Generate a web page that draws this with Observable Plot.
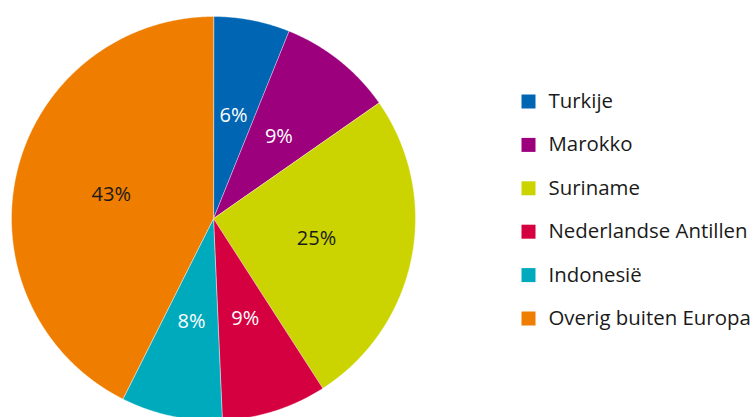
<!DOCTYPE html>
<html>
<head>
<meta charset="utf-8">
<script src="https://cdn.jsdelivr.net/npm/d3@7"></script>
<script src="https://cdn.jsdelivr.net/npm/@observablehq/plot@0.6"></script>
<style>
  html, body { margin: 0; padding: 0; background: #fff; }
  #chart svg { display: block; }
</style>
</head>
<body>
<div id="chart"></div>
<script>
const categories = ["Turkije", "Marokko", "Suriname", "Nederlandse Antillen", "Indonesië", "Overig buiten Europa"];
const values = [6.1, 9.2, 25.6, 8.4, 8.1, 42.6];
const labels = ["6%", "9%", "25%", "9%", "8%", "43%"];
const colors = ["#0066b3", "#9c007d", "#cbd400", "#d5003f", "#00aabd", "#ee7d00"];
const labelColors = ["white", "white", "#1a1a1a", "white", "white", "#1a1a1a"];

const W = 753, H = 417;
const cx = 213, cy = 218, R = 202;
// pixel -> projection units (center 0,0, radius 1, y down)
const ux = (px) => (px - cx) / R;
const uy = (py) => (py - cy) / R;

const data = categories.map((name, i) => ({name, value: values[i], label: labels[i], labelColor: labelColors[i], i}));
const arcs = d3.pie().sort(null).value(d => d.value)(data);

const features = arcs.map(a => {
  const ring = [[0, 0]];
  const n = Math.max(2, Math.ceil((a.endAngle - a.startAngle) / 0.005));
  for (let k = 0; k <= n; ++k) {
    const t = a.startAngle + (a.endAngle - a.startAngle) * k / n;
    ring.push([Math.sin(t), -Math.cos(t)]);
  }
  ring.push([0, 0]);
  return {type: "Feature", properties: a.data, geometry: {type: "Polygon", coordinates: [ring]}};
});

const labelR = 0.52;
const labelPts = arcs.map(a => {
  const m = (a.startAngle + a.endAngle) / 2;
  return {...a.data, x: labelR * Math.sin(m), y: -labelR * Math.cos(m)};
});

const legendX = 528, legendTextX = 548, legendY0 = 101, legendStep = 43.4;
const legend = categories.map((name, i) => ({name, x: ux(legendX), tx: ux(legendTextX), y: uy(legendY0 + i * legendStep)}));

const chart = Plot.plot({
  width: W,
  height: H,
  margin: 0,
  style: {fontFamily: "'Open Sans', sans-serif", background: "white"},
  projection: {
    type: "identity",
    domain: {type: "MultiPoint", coordinates: [[ux(0), uy(0)], [ux(W), uy(H)]]}
  },
  color: {domain: categories, range: colors},
  marks: [
    Plot.geo(features, {fill: d => d.properties.name, stroke: "white", strokeWidth: 0.4}),
    Plot.text(labelPts.filter(d => d.labelColor === "white"), {x: "x", y: "y", text: "label", fill: "white", fontSize: 20}),
    Plot.text(labelPts.filter(d => d.labelColor !== "white"), {x: "x", y: "y", text: "label", fill: "#1a1a1a", fontSize: 20}),
    Plot.dot(legend, {x: "x", y: "y", symbol: "square", r: 7.9, fill: "name", stroke: null}),
    Plot.text(legend, {x: "tx", y: "y", text: "name", textAnchor: "start", fontSize: 20.4, fill: "#1a1a1a"})
  ]
});
document.getElementById("chart").appendChild(chart);
</script>
</body>
</html>
